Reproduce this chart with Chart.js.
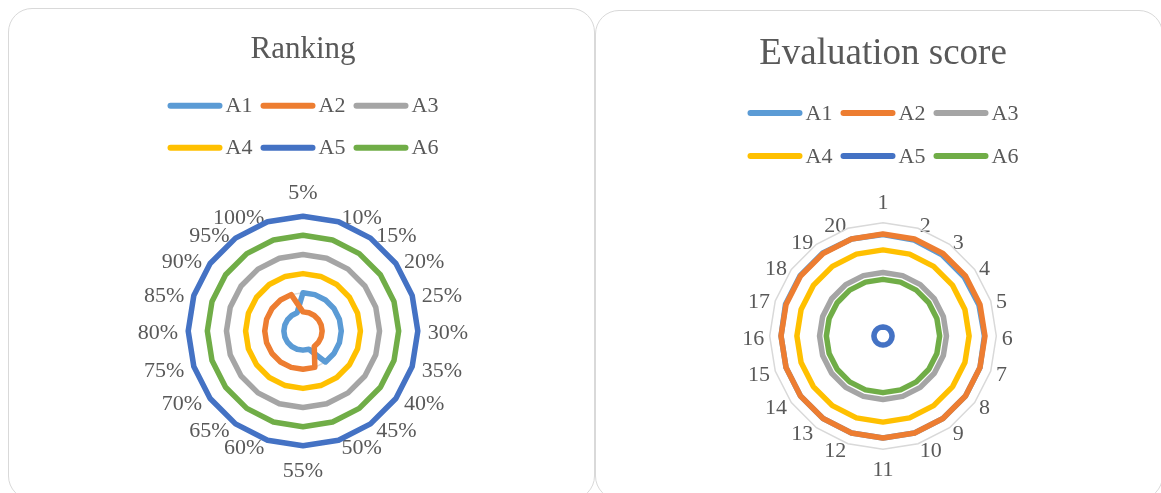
<!DOCTYPE html>
<html><head><meta charset="utf-8">
<script src="https://cdn.jsdelivr.net/npm/chart.js@4/dist/chart.umd.min.js"></script>
<style>
html,body{margin:0;padding:0;background:#fff;width:1161px;height:493px;overflow:hidden;position:relative;}
.panel{position:absolute;border:1.5px solid #d9d9d9;border-radius:24px;box-sizing:border-box;background:#fff;}
canvas{position:absolute;}
</style></head><body>
<div class="panel" style="left:8px;top:8px;width:587px;height:492px"></div>
<div class="panel" style="left:595px;top:10px;width:568px;height:490px"></div>
<canvas id="c1" width="586" height="485" style="left:8px;top:8px"></canvas>
<canvas id="c2" width="567" height="483" style="left:595px;top:10px"></canvas>
<script>
// ---- Data ----
const seriesNames = ['A1', 'A2', 'A3', 'A4', 'A5', 'A6'];
const seriesColors = ['#5B9BD5', '#ED7D31', '#A5A5A5', '#FFC000', '#4472C4', '#70AD47'];

const rankLabels = ['5%','10%','15%','20%','25%','30%','35%','40%','45%','50%','55%','60%','65%','70%','75%','80%','85%','90%','95%','100%'];
const rankA1 = [2,2,2,2,2,2,2,2,2,1,1,1,1,1,1,1,1,1,1,1];
const rankA2 = [1,1,1,1,1,1,1,1,1,2,2,2,2,2,2,2,2,2,2,2];
const rankA3 = [4,4,4,4,4,4,4,4,4,4,4,4,4,4,4,4,4,4,4,4];
const rankA4 = [3,3,3,3,3,3,3,3,3,3,3,3,3,3,3,3,3,3,3,3];
const rankA5 = [6,6,6,6,6,6,6,6,6,6,6,6,6,6,6,6,6,6,6,6];
const rankA6 = [5,5,5,5,5,5,5,5,5,5,5,5,5,5,5,5,5,5,5,5];

const scoreLabels = ['1','2','3','4','5','6','7','8','9','10','11','12','13','14','15','16','17','18','19','20'];
const scoreA1 = [0.895,0.89,0.885,0.885,0.89,0.895,0.9,0.9,0.9,0.9,0.9,0.9,0.9,0.9,0.9,0.9,0.905,0.905,0.905,0.9];
const scoreA2 = [0.9,0.9,0.9,0.9,0.9,0.9,0.9,0.9,0.9,0.9,0.9,0.9,0.9,0.9,0.9,0.9,0.9,0.9,0.9,0.9];
const scoreA3 = [0.56,0.56,0.56,0.56,0.56,0.56,0.56,0.56,0.56,0.56,0.56,0.56,0.56,0.56,0.56,0.56,0.56,0.56,0.56,0.56];
const scoreA4 = [0.76,0.76,0.76,0.76,0.76,0.76,0.76,0.76,0.76,0.76,0.76,0.76,0.76,0.76,0.76,0.76,0.76,0.76,0.76,0.76];
const scoreA5 = [0.08,0.08,0.08,0.08,0.08,0.08,0.08,0.08,0.08,0.08,0.08,0.08,0.08,0.08,0.08,0.08,0.08,0.08,0.08,0.08];
const scoreA6 = [0.5,0.5,0.5,0.5,0.5,0.5,0.5,0.5,0.5,0.5,0.5,0.5,0.5,0.5,0.5,0.5,0.5,0.5,0.5,0.5];

// ---- Helpers ----
const FONT = "'Liberation Serif', 'Times New Roman', serif";
const TEXT = '#595959';

function makeDatasets(arrays) {
  return arrays.map((d, i) => ({
    label: seriesNames[i],
    data: d,
    borderColor: seriesColors[i],
    backgroundColor: seriesColors[i],
    borderWidth: 5.5,
    borderJoinStyle: 'round',
    borderCapStyle: 'round',
    pointRadius: 0,
    pointHoverRadius: 0,
    fill: false,
    order: arrays.length - i
  }));
}

// Two-row legend (3 items per row), drawn like the spreadsheet legend
function rowLegend(rowY) {
  return {
    id: 'rowLegend',
    afterDraw(chart) {
      const ctx = chart.ctx;
      const cx = chart.scales.r.xCenter;
      const pitch = 93, lineLen = 55, gap = 3;
      const start = cx - 135.5;
      ctx.save();
      ctx.font = '22px ' + FONT;
      ctx.textBaseline = 'middle';
      ctx.textAlign = 'left';
      chart.data.datasets.forEach((ds, i) => {
        const row = Math.floor(i / 3), col = i % 3;
        const x0 = start + col * pitch;
        const y = rowY[row];
        ctx.strokeStyle = ds.borderColor;
        ctx.lineWidth = 6;
        ctx.lineCap = 'round';
        ctx.beginPath();
        ctx.moveTo(x0 + 3, y);
        ctx.lineTo(x0 + lineLen - 3, y);
        ctx.stroke();
        ctx.fillStyle = TEXT;
        ctx.fillText(ds.label, x0 + lineLen + gap, y + 1);
      });
      ctx.restore();
    }
  };
}

// Place the category labels the way the spreadsheet does (side labels vertically centred)
function labelPlacement(padH, padV, padTB, dy) {
  return {
    id: 'labelPlacement',
    afterLayout(chart) {
      const s = chart.scales.r;
      const items = s._pointLabelItems;
      if (!items) return;
      const r = s.drawingArea;
      const lineH = s.options.pointLabels.font.size * 1.2;
      items.forEach((it, i) => {
        const ang = s.getIndexAngle(i);
        const sn = Math.sin(ang), cs = Math.cos(ang);
        const deg = ((Math.round(ang * 180 / Math.PI) % 360) + 360) % 360;
        if (deg === 0) {
          it.x = s.xCenter; it.textAlign = 'center';
          it.y = s.yCenter - (r + padTB) - lineH + 1;
        } else if (deg === 180) {
          it.x = s.xCenter; it.textAlign = 'center';
          it.y = s.yCenter + r + padTB + 1;
        } else {
          it.x = s.xCenter + (r + padH) * sn;
          it.textAlign = sn > 0 ? 'left' : 'right';
          it.y = s.yCenter - (r + padV) * cs - lineH / 2 + dy;
        }
      });
    }
  };
}

function makeChart(id, title, titleSize, titlePad, labels, arrays, scaleOpts, labelPad, layoutPad, legendRows, place) {
  return new Chart(document.getElementById(id), {
    type: 'radar',
    data: { labels: labels, datasets: makeDatasets(arrays) },
    options: {
      responsive: false,
      animation: false,
      devicePixelRatio: 1,
      layout: { padding: layoutPad },
      plugins: {
        legend: { display: false },
        tooltip: { enabled: false },
        title: {
          display: true, text: title, color: TEXT,
          font: { family: FONT, size: titleSize, weight: 'normal' },
          padding: titlePad
        }
      },
      scales: {
        r: Object.assign({
          beginAtZero: true,
          ticks: { display: false },
          grid: { color: '#D9D9D9', lineWidth: 1.5 },
          angleLines: { display: false },
          pointLabels: { font: { family: FONT, size: 22 }, color: TEXT, padding: labelPad }
        }, scaleOpts)
      }
    },
    plugins: [rowLegend(legendRows), labelPlacement(place[0], place[1], place[2], place[3])]
  });
}

makeChart('c1', 'Ranking', 31, { top: 23, bottom: 110.6 }, rankLabels,
  [rankA1, rankA2, rankA3, rankA4, rankA5, rankA6],
  { min: 0, max: 6, ticks: { display: false, stepSize: 1 } },
  11, { top: 0, bottom: 8.8, left: 4, right: 0 }, [97.7, 139.7], [10, 6, 11, 2.5]);

makeChart('c2', 'Evaluation score', 37, { top: 22.3, bottom: 112.6 }, scoreLabels,
  [scoreA1, scoreA2, scoreA3, scoreA4, scoreA5, scoreA6],
  { min: 0, max: 1, ticks: { display: false, stepSize: 0.5 } },
  7, { top: 0, bottom: 9.9, left: 9, right: 0 }, [103, 146], [5.5, 5, 7, 3]);
</script>
</body></html>
